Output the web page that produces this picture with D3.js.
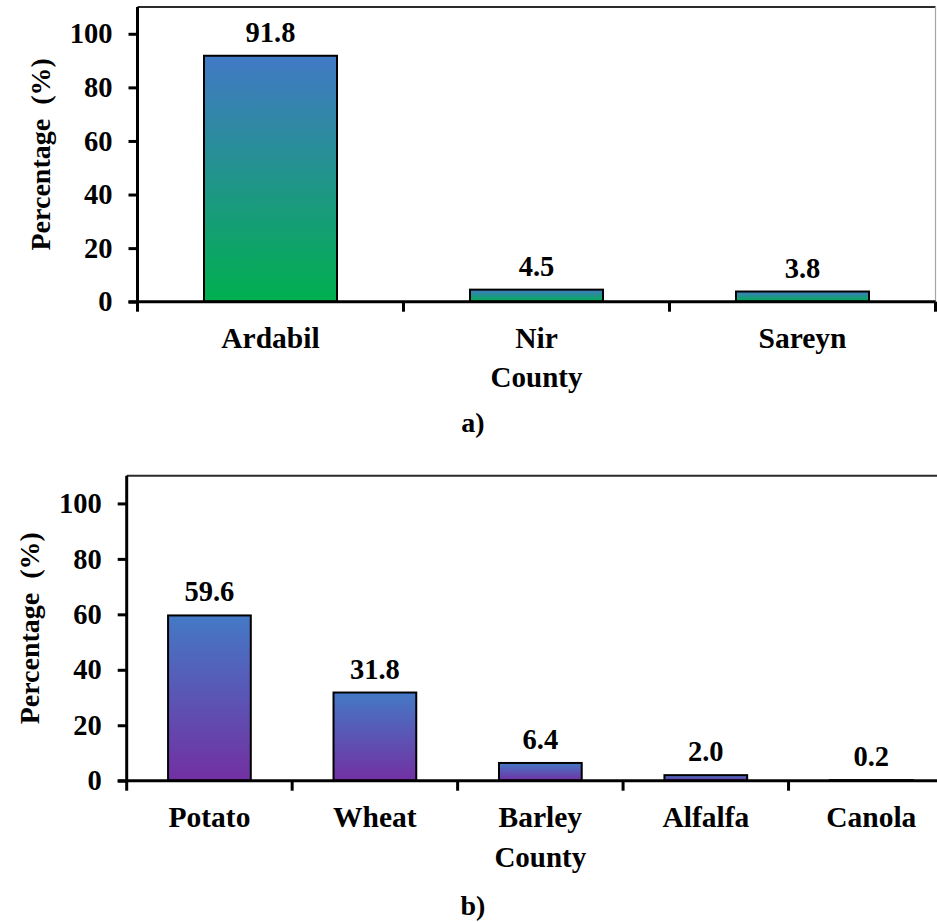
<!DOCTYPE html>
<html>
<head>
<meta charset="utf-8">
<script src="https://cdn.jsdelivr.net/npm/d3@7"></script>
<style>
  html, body { margin: 0; padding: 0; background: #fff; }
  svg { display: block; }
  svg text { font-family: "Liberation Serif", "Times New Roman", Times, "DejaVu Serif", serif !important; font-weight: bold; fill: #000; }
</style>
</head>
<body>
<svg id="chart" width="937" height="922"></svg>
<script>
// Share of records by county (panel a)
const countyNames = ["Ardabil", "Nir", "Sareyn"];
const countyShare = [91.8, 4.5, 3.8];

// Share of records by crop (panel b)
const cropNames = ["Potato", "Wheat", "Barley", "Alfalfa", "Canola"];
const cropShare = [59.6, 31.8, 6.4, 2.0, 0.2];

const yTicks = [0, 20, 40, 60, 80, 100];
const yMax = 110;

const serif = "'Liberation Serif', 'Times New Roman', Times, 'DejaVu Serif', serif";

const svg = d3.select("#chart");
const defs = svg.append("defs");

function gradient(id, top, bottom) {
  const g = defs.append("linearGradient").attr("id", id)
    .attr("x1", 0).attr("y1", 0).attr("x2", 0).attr("y2", 1);
  g.append("stop").attr("offset", "0%").attr("stop-color", top);
  g.append("stop").attr("offset", "100%").attr("stop-color", bottom);
}
gradient("gradA", "#4279c6", "#00b04f");
gradient("gradB", "#4479c6", "#7230a2");

function panel(opts) {
  const { names, values, left, right, top, bottom, fill, titleX, axisLabelDy, caption, captionY } = opts;
  const g = svg.append("g").attr("font-family", serif);

  const x = d3.scaleBand().domain(names).range([left, right]).paddingInner(0.5).paddingOuter(0.25);
  const y = d3.scaleLinear().domain([0, yMax]).range([bottom, top]);

  // plot frame: top line and right edge
  g.append("line").attr("x1", left).attr("x2", right).attr("y1", top).attr("y2", top)
    .attr("stroke", "#2b2b2b").attr("stroke-width", 2);
  g.append("line").attr("x1", right).attr("x2", right).attr("y1", top).attr("y2", bottom)
    .attr("stroke", "#a6a6a6").attr("stroke-width", 1.2);

  // bars
  g.selectAll("rect.bar").data(values).join("rect")
    .attr("class", "bar")
    .attr("x", (d, i) => x(names[i]))
    .attr("width", x.bandwidth())
    .attr("y", d => y(d))
    .attr("height", d => y(0) - y(d))
    .attr("fill", `url(#${fill})`)
    .attr("stroke", "#000")
    .attr("stroke-width", 2);

  // value labels
  g.selectAll("text.val").data(values).join("text")
    .attr("class", "val")
    .attr("x", (d, i) => x(names[i]) + x.bandwidth() / 2)
    .attr("y", d => y(d) - 14)
    .attr("text-anchor", "middle")
    .attr("font-size", 28.5)
    .text(d => d.toFixed(1));

  // y axis
  const yAxis = g.append("g").attr("transform", `translate(${left},0)`)
    .call(d3.axisLeft(y).tickValues(yTicks).tickSize(9).tickSizeOuter(0).tickPadding(16));
  yAxis.attr("font-family", serif);
  yAxis.select(".domain").attr("stroke", "#000").attr("stroke-width", 3)
    .attr("d", `M0,${bottom + 1.5}V${top}`);
  yAxis.selectAll(".tick line").attr("stroke", "#000").attr("stroke-width", 3);
  yAxis.selectAll(".tick text")
    .attr("font-weight", "bold")
    .attr("font-size", 28.5).attr("fill", "#000");

  // x axis with ticks at category boundaries
  const bounds = names.map(n => x(n) - x.bandwidth() / 2).concat([right]);
  g.append("line").attr("x1", left - 9).attr("x2", right).attr("y1", bottom).attr("y2", bottom)
    .attr("stroke", "#000").attr("stroke-width", 3);
  g.selectAll("line.xtick").data(bounds).join("line")
    .attr("class", "xtick")
    .attr("x1", d => d).attr("x2", d => d)
    .attr("y1", bottom).attr("y2", bottom + 10)
    .attr("stroke", "#000").attr("stroke-width", 3);

  g.selectAll("text.cat").data(names).join("text")
    .attr("class", "cat")
    .attr("x", d => x(d) + x.bandwidth() / 2)
    .attr("y", bottom + 46)
    .attr("text-anchor", "middle")
    .attr("font-size", 29.5)
    .text(d => d);

  g.append("text")
    .attr("x", (left + right) / 2)
    .attr("y", bottom + 46 + axisLabelDy)
    .attr("text-anchor", "middle")
    .attr("font-size", 29)
    .text("County");

  g.append("text")
    .attr("transform", `translate(${titleX},${(top + bottom) / 2}) rotate(-90)`)
    .attr("text-anchor", "middle")
    .attr("font-size", 28)
    .attr("xml:space", "preserve")
    .text("Percentage  (%)");

  svg.append("text")
    .attr("x", 473)
    .attr("y", captionY)
    .attr("text-anchor", "middle")
    .attr("font-size", 28)
    .text(caption);
}

panel({
  names: countyNames, values: countyShare,
  left: 137.5, right: 935.5, top: 7, bottom: 301.7,
  fill: "gradA", titleX: 50, axisLabelDy: 39, caption: "a)", captionY: 432
});

panel({
  names: cropNames, values: cropShare,
  left: 126.7, right: 954, top: 475.7, bottom: 780.7,
  fill: "gradB", titleX: 39, axisLabelDy: 40, caption: "b)", captionY: 915
});
</script>
</body>
</html>
